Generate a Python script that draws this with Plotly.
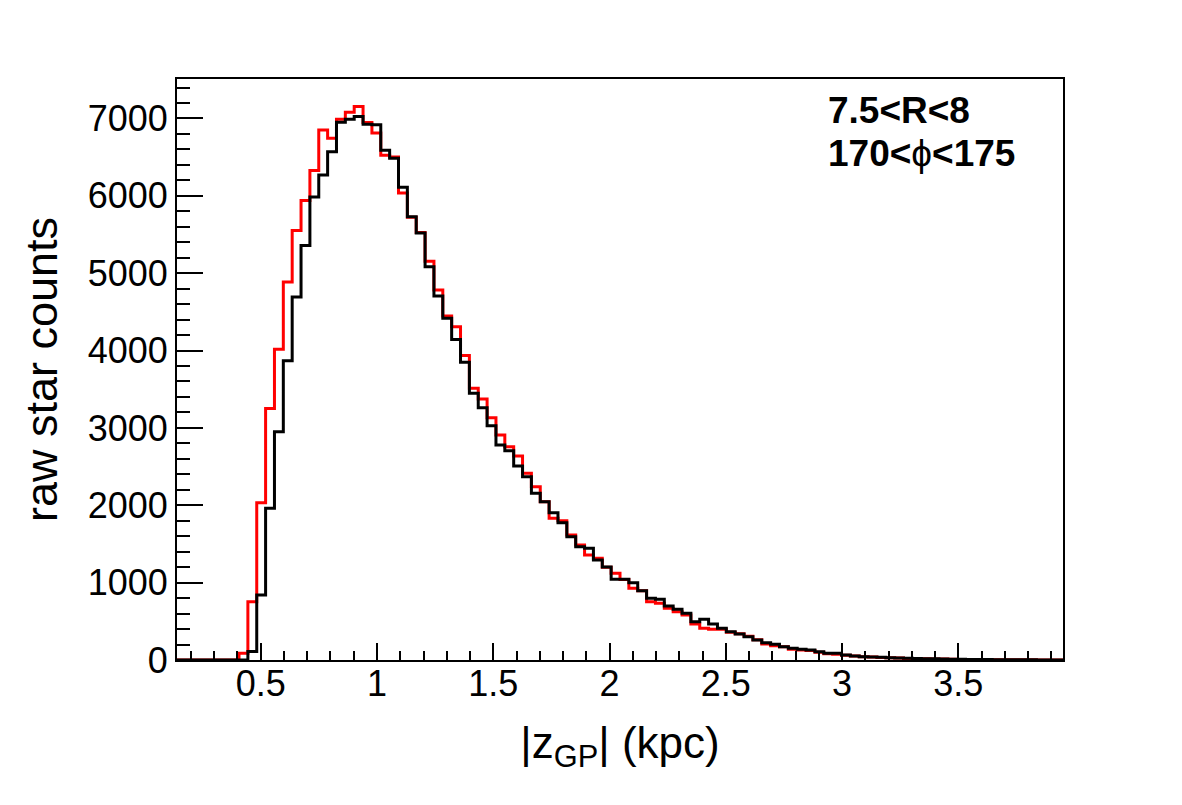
import numpy as np
import plotly.graph_objects as go

# Histogram binning (100 bins)
bin_low = 0.14
bin_width = 0.0381
n_bins = 100

# red histogram counts per bin
red_counts = [
    0, 0, 0, 0, 0, 0, 0, 86, 754, 2033,
    3250, 4018, 4885, 5552, 5940, 6328, 6851, 6745, 6989, 7080,
    7155, 6948, 6812, 6525, 6503, 6036, 5722, 5527, 5155, 4783,
    4447, 4308, 3935, 3512, 3374, 3132, 2908, 2758, 2637, 2413,
    2240, 2046, 1831, 1800, 1616, 1487, 1357, 1314, 1198, 1121,
    1040, 926, 896, 754, 733, 668, 625, 582, 465, 410,
    397, 397, 358, 340, 306, 263, 207, 185, 172, 138,
    130, 122, 100, 80, 75, 62, 52, 43, 38, 33,
    29, 25, 21, 19, 16, 14, 12, 10, 8, 7,
    6, 5, 4, 3, 3, 2, 2, 1, 1, 1,
]

# black histogram counts per bin
black_counts = [
    0, 0, 0, 0, 0, 0, 0, 0, 110, 840,
    1961, 2950, 3868, 4693, 5358, 5985, 6270, 6571, 6950, 6989,
    7024, 6924, 6920, 6590, 6485, 6110, 5730, 5520, 5084, 4705,
    4416, 4143, 3850, 3448, 3262, 3029, 2779, 2706, 2508, 2370,
    2154, 2046, 1904, 1775, 1594, 1465, 1444, 1293, 1202, 1043,
    1043, 999, 896, 797, 784, 698, 655, 603, 495, 526,
    465, 410, 366, 336, 301, 258, 224, 203, 172, 151,
    138, 129, 108, 86, 86, 65, 52, 43, 39, 34,
    30, 26, 22, 20, 17, 15, 12, 10, 9, 7,
    6, 5, 4, 3, 3, 2, 2, 1, 1, 1,
]

x_range = [0.14, 3.95]
y_range = [0, 7510]
x_title = "|z<sub>GP</sub>| (kpc)"
y_title = "raw star counts"
label_lines = ["<b>7.5&lt;R&lt;8</b>", "<b>170&lt;</b>ϕ<b>&lt;175</b>"]

edges = bin_low + bin_width * np.arange(n_bins + 1)


def step_trace(counts, color):
    y = list(counts) + [counts[-1]]
    return go.Scatter(
        x=edges, y=y, mode="lines", line=dict(color=color, width=3, shape="hv"),
        showlegend=False, hoverinfo="skip",
    )


fig = go.Figure()
fig.add_trace(step_trace(red_counts, "#ff0000"))
fig.add_trace(step_trace(black_counts, "#000000"))

font_family = "Liberation Sans, Arial, Helvetica, sans-serif"

fig.update_layout(
    width=1182, height=805,
    margin=dict(l=177, r=119, t=79, b=145),
    paper_bgcolor="white", plot_bgcolor="white",
    font=dict(family=font_family, color="black"),
    xaxis=dict(
        range=x_range, showgrid=False, zeroline=False, automargin=False,
        showline=True, linecolor="black", linewidth=2, mirror=True,
        ticks="inside", ticklen=17, tickwidth=2, tickcolor="black",
        tick0=0, dtick=0.5, tickangle=0, ticklabelstandoff=-9,
        minor=dict(ticks="inside", ticklen=9, tickwidth=2, tickcolor="black", dtick=0.1, tick0=0, showgrid=False),
        tickfont=dict(size=36, family=font_family),
        title=dict(text=x_title, font=dict(size=44, family=font_family), standoff=24),
    ),
    yaxis=dict(
        range=y_range, showgrid=False, zeroline=False, automargin=False,
        showline=True, linecolor="black", linewidth=2, mirror=True,
        ticks="inside", ticklen=26, tickwidth=2, tickcolor="black",
        tick0=0, dtick=1000, tickformat="d",
        minor=dict(ticks="inside", ticklen=13, tickwidth=2, tickcolor="black", dtick=200, tick0=0, showgrid=False),
        tickfont=dict(size=36, family=font_family),
        title=dict(text=y_title, font=dict(size=45, family=font_family), standoff=16),
    ),
)

for line, ypos in zip(label_lines, [0.985, 0.91]):
    fig.add_annotation(
        xref="paper", yref="paper", x=0.732, y=ypos, xanchor="left", yanchor="top",
        text=line, showarrow=False, align="left",
        font=dict(size=37, family=font_family, color="black"),
    )

fig.write_html("out.html")
